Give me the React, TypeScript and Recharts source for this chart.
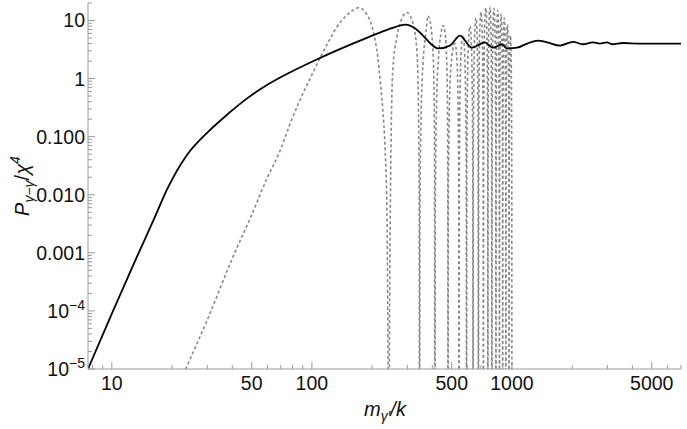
import React from 'react';
import { LineChart, Line, XAxis, YAxis } from 'recharts';

// solid curve (black)
const solidX = [
  7.5, 10, 13, 16.4, 18.8, 23.7, 30.2, 38, 48, 58, 69, 110, 174, 219, 260, 292,
  330, 359, 395, 427, 490, 550, 631, 733, 804, 891, 944, 1060, 1190, 1350,
  1500, 1740, 2020, 2260, 2540, 2750, 2990, 3160, 3590, 4370, 5500, 7100,
];
const solidY = [
  9e-6, 9e-5, 7e-4, 4.1e-3, 0.012, 0.048, 0.12, 0.245, 0.47, 0.73, 1.03, 2.27, 4.5, 6.2, 7.7, 8.5,
  7.2, 5.5, 3.9, 3.3, 3.7, 5.5, 3.4, 4.2, 3.4, 3.9, 3.3, 3.4, 4.0, 4.5,
  4.2, 3.7, 4.3, 3.9, 4.2, 4.0, 4.2, 3.9, 4.1, 4.0, 4.0, 4.0,
];

// dashed curve (gray), lobe by lobe
const dashedX = [
  20, 23.4, 30, 40, 50, 60, 69, 78, 87, 98, 110, 122, 133, 150, 163, 172, 183, 195, 205, 213, 219, 226, 232, 237, 240, 242,
  244, 247, 254, 266, 282, 298, 310, 320, 335, 341, 344, 345,
  347, 352, 360, 372, 380, 389, 398, 406, 410, 412,
  414, 420, 430, 442, 452, 462, 470, 476, 478, 479,
  481, 495, 519, 532, 542, 544,
  546, 556, 569, 581, 591, 593,
  595, 605, 617, 628, 637, 639,
  641, 650, 661, 670, 678, 680,
  682, 690, 700, 710, 718, 720,
  722, 730, 740, 749, 756, 758,
  760, 767, 776, 785, 792, 794,
  796, 804, 813, 822, 830, 832,
  834, 841, 849, 857, 864, 866,
  868, 875, 882, 890, 897, 899,
  901, 908, 916, 924, 931, 933,
  935, 942, 950, 958, 965, 967,
  969, 975, 983, 991, 998, 1000,
];
const dashedY = [
  3e-6, 1e-5, 7e-5, 8e-4, 4.5e-3, 0.02, 0.055, 0.17, 0.42, 1.0, 2.3, 4.5, 7.6, 12.5, 15.5, 16.7, 14.5, 10, 5.5, 2.5, 1.0, 0.3, 0.066, 0.006, 2e-5, 1e-8,
  2e-5, 0.01, 1.5, 5.1, 11, 13.7, 12, 8.9, 3.0, 0.3, 0.005, 1e-8,
  0.005, 0.3, 2, 6.5, 12, 10, 5.5, 1.5, 0.1, 1e-8,
  0.005, 0.4, 2.5, 6, 8.2, 6.5, 3, 0.4, 0.01, 1e-8,
  0.02, 1.6, 4, 1.8, 0.02, 1e-8,
  0.03, 2.5, 5.5, 2.5, 0.03, 1e-8,
  0.04, 3.6, 8, 3.6, 0.04, 1e-8,
  0.05, 5, 11, 5, 0.05, 1e-8,
  0.06, 6.5, 14, 6.5, 0.06, 1e-8,
  0.07, 7.5, 16.5, 7.5, 0.07, 1e-8,
  0.07, 8, 17, 8, 0.07, 1e-8,
  0.07, 7.5, 16, 7.5, 0.07, 1e-8,
  0.06, 7, 15, 7, 0.06, 1e-8,
  0.06, 6, 13, 6, 0.06, 1e-8,
  0.05, 5, 11, 5, 0.05, 1e-8,
  0.04, 4, 8.5, 4, 0.04, 1e-8,
  0.03, 2.5, 5.5, 2.5, 0.03, 1e-8,
];

const xMajor = [10, 50, 100, 500, 1000, 5000];
const xMajorLabels = ['10', '50', '100', '500', '1000', '5000'];
const xTicks = [
  8, 9, 10, 20, 30, 40, 50, 60, 70, 80, 90, 100, 200, 300, 400, 500, 600, 700, 800, 900,
  1000, 2000, 3000, 4000, 5000, 6000, 7000,
];

const yMajor = [1e-5, 1e-4, 0.001, 0.01, 0.1, 1, 10];
const yMajorLabels = ['10|-5', '10|-4', '0.001', '0.010', '0.100', '1', '10'];
const yTicks: number[] = [];
for (let k = -5; k <= 1; k++) {
  for (let m = 1; m <= 9; m++) {
    const v = m * Math.pow(10, k);
    if (v <= 20) yTicks.push(v);
  }
}

const solidData = solidX.map((x, i) => ({ x, y: solidY[i] }));
const dashedData = dashedX.map((x, i) => ({ x, y: dashedY[i] }));

const W = 687;
const H = 429;
const LEFT = 88;
const RIGHT = 681;
const TOP = 3;
const BOTTOM = 369;
const FRAME = '#9a9a9a';
const FONT = '"Liberation Sans", Arial, sans-serif';

const findIdx = (arr: number[], v: number) =>
  arr.findIndex((m) => Math.abs(Math.log10(m) - Math.log10(v)) < 1e-6);

const XTickBottom = (props: any) => {
  const { x, payload } = props;
  const i = findIdx(xMajor, payload.value);
  return (
    <g>
      <line x1={x} x2={x} y1={BOTTOM} y2={BOTTOM - (i >= 0 ? 7 : 4)} stroke={FRAME} />
      {i >= 0 && (
        <text x={x} y={BOTTOM + 21} textAnchor='middle' fontSize={19.5} fill='#111' fontFamily={FONT}>
          {xMajorLabels[i]}
        </text>
      )}
    </g>
  );
};

const XTickTop = (props: any) => {
  const { x, payload } = props;
  const i = findIdx(xMajor, payload.value);
  return <line x1={x} x2={x} y1={TOP} y2={TOP + (i >= 0 ? 7 : 4)} stroke={FRAME} />;
};

const YTickLeft = (props: any) => {
  const { y, payload } = props;
  const i = findIdx(yMajor, payload.value);
  let label: React.ReactNode = null;
  if (i >= 0) {
    const parts = yMajorLabels[i].split('|');
    label = (
      <text x={LEFT - 3} y={y + 7} textAnchor='end' fontSize={19.5} fill='#111' fontFamily={FONT}>
        {parts[0]}
        {parts[1] && (
          <tspan dy={-8} fontSize={14}>
            {parts[1].replace('-', '\u2212')}
          </tspan>
        )}
      </text>
    );
  }
  return (
    <g>
      <line x1={LEFT} x2={LEFT + (i >= 0 ? 7 : 4)} y1={y} y2={y} stroke={FRAME} />
      {label}
    </g>
  );
};

const YTickRight = (props: any) => {
  const { y, payload } = props;
  const i = findIdx(yMajor, payload.value);
  return <line x1={RIGHT} x2={RIGHT - (i >= 0 ? 7 : 4)} y1={y} y2={y} stroke={FRAME} />;
};

const App = () => {
  return (
    <div style={{ position: 'absolute', left: 0, top: 0, width: W, height: H, background: '#fff' }}>
      <LineChart width={W} height={H} margin={{ top: TOP, right: W - RIGHT, bottom: 0, left: 0 }}>
        <XAxis
          xAxisId='b'
          type='number'
          dataKey='x'
          scale='log'
          domain={[7.6, 7000]}
          allowDataOverflow
          ticks={xTicks}
          interval={0}
          tick={<XTickBottom />}
          tickLine={false}
          axisLine={{ stroke: FRAME }}
          height={H - BOTTOM}
        />
        <XAxis
          xAxisId='t'
          orientation='top'
          type='number'
          dataKey='x'
          scale='log'
          domain={[7.6, 7000]}
          allowDataOverflow
          ticks={xTicks}
          interval={0}
          tick={<XTickTop />}
          tickLine={false}
          axisLine={{ stroke: FRAME }}
          height={0}
        />
        <YAxis
          yAxisId='l'
          type='number'
          dataKey='y'
          scale='log'
          domain={[1e-5, 20]}
          allowDataOverflow
          ticks={yTicks}
          interval={0}
          tick={<YTickLeft />}
          tickLine={false}
          axisLine={{ stroke: FRAME }}
          width={LEFT}
        />
        <YAxis
          yAxisId='r'
          orientation='right'
          type='number'
          dataKey='y'
          scale='log'
          domain={[1e-5, 20]}
          allowDataOverflow
          ticks={yTicks}
          interval={0}
          tick={<YTickRight />}
          tickLine={false}
          axisLine={{ stroke: FRAME }}
          width={0}
        />
        <Line
          xAxisId='b'
          yAxisId='l'
          data={dashedData}
          dataKey='y'
          type='monotone'
          stroke='#888'
          strokeWidth={1.6}
          strokeDasharray='3 2.5'
          dot={false}
          isAnimationActive={false}
        />
        <Line
          xAxisId='b'
          yAxisId='l'
          data={solidData}
          dataKey='y'
          type='monotone'
          stroke='#000'
          strokeWidth={1.8}
          dot={false}
          isAnimationActive={false}
        />
        <text x={385} y={416} textAnchor='middle' fontSize={20} fill='#111' fontFamily={FONT}>
          <tspan fontStyle='italic'>m</tspan>
          <tspan fontSize={14} dy={5} fontStyle='italic'>{'\u03b3\u2032'}</tspan>
          <tspan dy={-5} fontStyle='italic'>/k</tspan>
        </text>
        <text
          x={29}
          y={186}
          transform='rotate(-90 29 186)'
          textAnchor='middle'
          fontSize={20}
          fill='#111'
          fontFamily={FONT}
        >
          <tspan fontStyle='italic'>P</tspan>
          <tspan fontSize={14} dy={5} fontStyle='italic'>{'\u03b3\u2212\u03b3'}</tspan>
          <tspan dy={-5}>/</tspan>
          <tspan fontStyle='italic'>{'\u03c7'}</tspan>
          <tspan fontSize={14} dy={-9} fontStyle='italic'>4</tspan>
        </text>
      </LineChart>
    </div>
  );
};

export default App;
